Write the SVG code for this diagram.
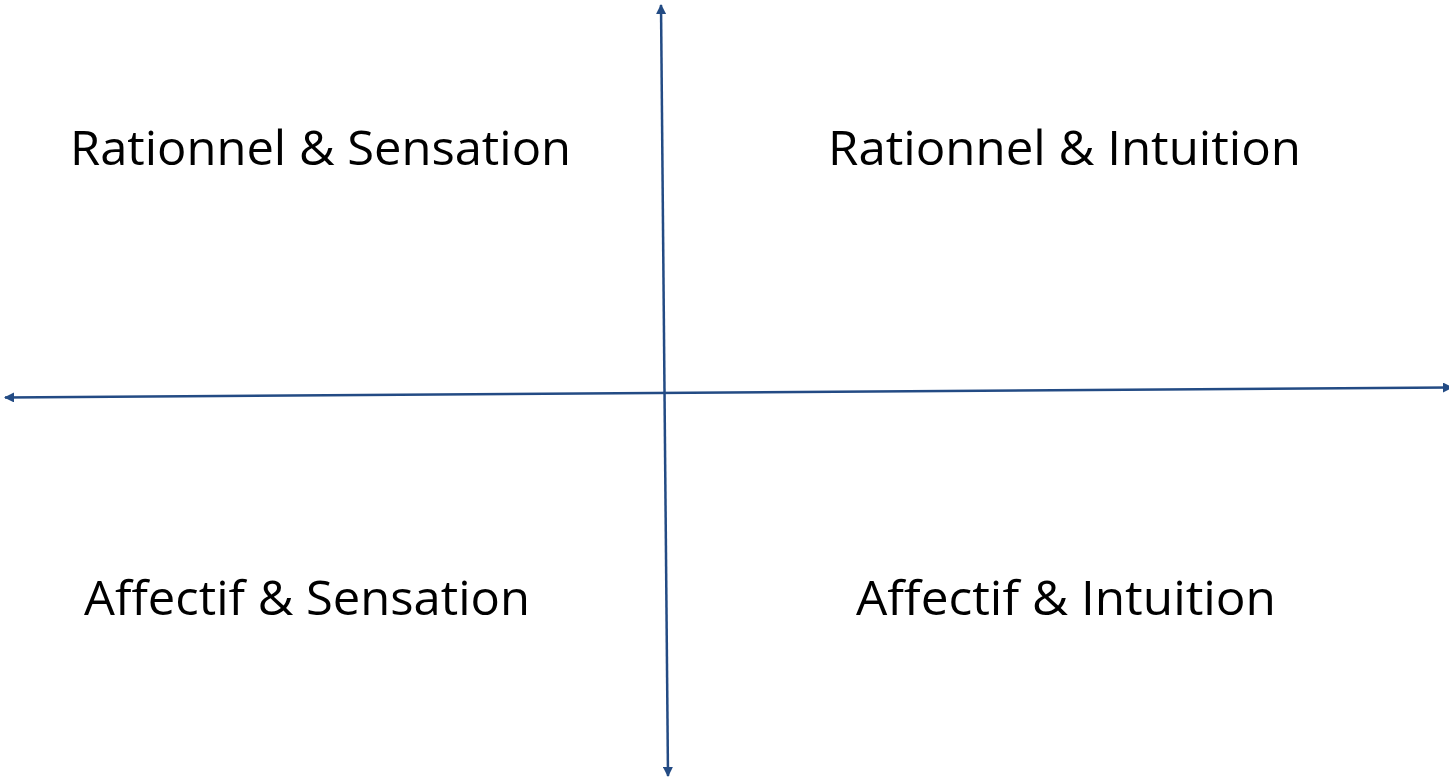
<svg xmlns="http://www.w3.org/2000/svg" width="1449" height="784" viewBox="0 0 1449 784">
<style>
.lbl{font-family:"Open Sans","Liberation Sans",Arial,sans-serif;font-size:48px;fill:#000}
.axis{stroke:#234B84;stroke-width:2.5;fill:none}
</style>
<defs>
<marker id="ah" viewBox="0 0 10 10" refX="9" refY="5" markerWidth="4" markerHeight="4" orient="auto-start-reverse" markerUnits="strokeWidth">
<path d="M0,0 L10,5 L0,10 z" fill="#234B84"/>
</marker>
</defs>
<rect width="1449" height="784" fill="#fff"/>
<g id="connectors">
<line class="axis" x1="661" y1="5" x2="668" y2="776" marker-start="url(#ah)" marker-end="url(#ah)"/>
<line class="axis" x1="5" y1="397.5" x2="1452" y2="387.5" marker-start="url(#ah)" marker-end="url(#ah)"/>
</g>
<g id="q1"><text class="lbl" x="70" y="165" textLength="501" lengthAdjust="spacingAndGlyphs">Rationnel &amp; Sensation</text></g>
<g id="q2"><text class="lbl" x="828" y="165" textLength="473" lengthAdjust="spacingAndGlyphs">Rationnel &amp; Intuition</text></g>
<g id="q3"><text class="lbl" x="84" y="615" textLength="446" lengthAdjust="spacingAndGlyphs">Affectif &amp; Sensation</text></g>
<g id="q4"><text class="lbl" x="856" y="615" textLength="420" lengthAdjust="spacingAndGlyphs">Affectif &amp; Intuition</text></g>
</svg>
